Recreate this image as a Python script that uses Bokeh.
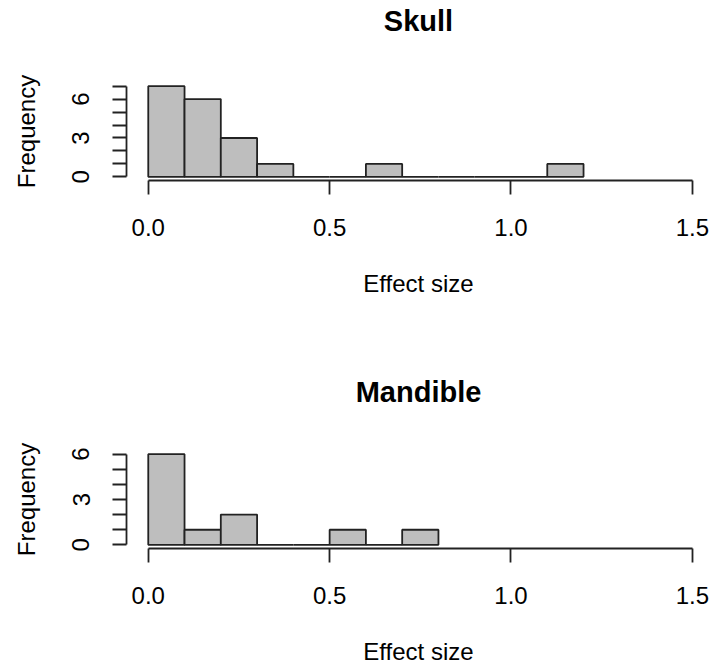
from bokeh.plotting import figure
from bokeh.layouts import column
from bokeh.models import Range1d, FixedTicker, PrintfTickFormatter, Title
from bokeh.embed import file_html
from bokeh.resources import INLINE

# ---- data ----
skull_edges = [0.0, 0.1, 0.2, 0.3, 0.4, 0.5, 0.6, 0.7, 0.8, 0.9, 1.0, 1.1, 1.2]
skull_counts = [7, 6, 3, 1, 0, 0, 1, 0, 0, 0, 0, 1]

mandible_edges = [0.0, 0.1, 0.2, 0.3, 0.4, 0.5, 0.6, 0.7, 0.8]
mandible_counts = [6, 1, 2, 0, 0, 1, 0, 1]

x_ticks = [0.0, 0.5, 1.0, 1.5]
skull_y_ticks = [0, 1, 2, 3, 4, 5, 6, 7]
mandible_y_ticks = [0, 1, 2, 3, 4, 5, 6]
y_labelled = [0, 3, 6]

FONT = "Liberation Sans"
INK = "#222222"
FRAME_H = 98


def hist_panel(title, edges, counts, yticks, height, top_border, title_lift):
    ymax = max(yticks)
    pad = 0.04 * ymax
    p = figure(width=710, height=height, output_backend="svg", toolbar_location=None,
               x_range=Range1d(-0.06, 1.55), y_range=Range1d(-pad, ymax + pad),
               frame_width=584, frame_height=FRAME_H,
               min_border_left=126, min_border_right=0,
               min_border_top=top_border, min_border_bottom=height - top_border - FRAME_H)
    p.outline_line_color = None
    p.grid.visible = False
    p.background_fill_color = "white"
    p.border_fill_color = "white"

    p.quad(left=edges[:-1], right=edges[1:], bottom=0, top=counts,
           fill_color="#BEBEBE", line_color=INK, line_width=1.8)

    # spacer between plot region and main title, then the title itself
    p.add_layout(Title(text=" ", text_font_size="1px", standoff=title_lift), "above")
    p.add_layout(Title(text=title, align="center", standoff=0,
                       text_font=FONT, text_font_size="29px", text_font_style="bold",
                       text_color="black"), "above")

    xa = p.xaxis[0]
    xa.ticker = FixedTicker(ticks=x_ticks)
    xa.formatter = PrintfTickFormatter(format="%.1f")
    xa.bounds = (min(x_ticks), max(x_ticks))
    xa.axis_label = "Effect size"

    ya = p.yaxis[0]
    ya.ticker = FixedTicker(ticks=yticks)
    ya.major_label_overrides = {t: ("" if t not in y_labelled else str(t)) for t in yticks}
    ya.bounds = (min(yticks), max(yticks))
    ya.major_label_orientation = "vertical"
    ya.axis_label = "Frequency"

    for ax in (xa, ya):
        ax.minor_tick_line_color = None
        ax.major_tick_in = 0
        ax.major_tick_out = 14
        ax.axis_line_color = INK
        ax.axis_line_width = 1.8
        ax.major_tick_line_color = INK
        ax.major_tick_line_width = 1.8
        ax.major_label_text_font = FONT
        ax.major_label_text_font_size = "24px"
        ax.major_label_text_color = "black"
        ax.axis_label_text_font = FONT
        ax.axis_label_text_font_size = "24px"
        ax.axis_label_text_font_style = "normal"
        ax.axis_label_text_color = "black"
    xa.major_label_standoff = 24
    xa.axis_label_standoff = 31
    ya.major_label_standoff = 23
    ya.axis_label_standoff = 30
    return p


p1 = hist_panel("Skull", skull_edges, skull_counts, skull_y_ticks, 367, 82, 43)
p2 = hist_panel("Mandible", mandible_edges, mandible_counts, mandible_y_ticks, 301, 83, 40)

layout = column(p1, p2, spacing=0)
open("out.html", "w").write(file_html(layout, INLINE))
